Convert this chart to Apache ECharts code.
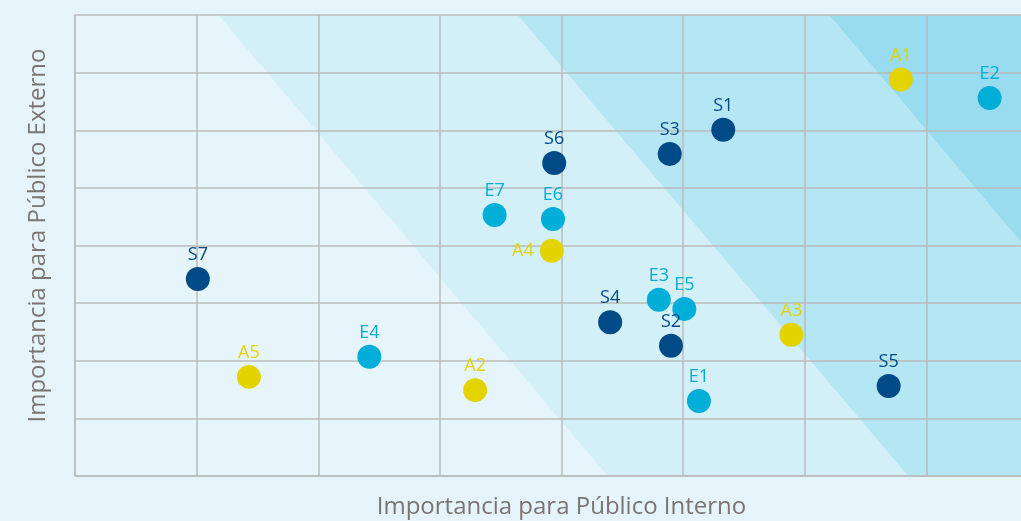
<!DOCTYPE html>
<html>
<head>
<meta charset="utf-8">
<script src="https://cdn.jsdelivr.net/npm/echarts@6/dist/echarts.min.js"></script>
<style>
  html, body { margin: 0; padding: 0; overflow: hidden; background: #e5f4fb; }
  #chart { width: 1048px; height: 521px; }
</style>
</head>
<body>
<div id="chart"></div>
<script>
// points: [x, y, name]
const groupS = [
  [5.33, 6.01, "S1"], [4.90, 2.26, "S2"], [4.89, 5.59, "S3"], [4.40, 2.67, "S4"],
  [6.69, 1.56, "S5"], [3.94, 5.43, "S6"], [1.01, 3.42, "S7"]
];
const groupE = [
  [5.13, 1.30, "E1"], [7.52, 6.56, "E2"], [4.80, 3.06, "E3"], [2.42, 2.07, "E4"],
  [5.01, 2.90, "E5"], [3.93, 4.46, "E6"], [3.45, 4.53, "E7"]
];
const groupA = [
  [6.79, 6.88, "A1"], [3.29, 1.49, "A2"], [5.89, 2.45, "A3"], [3.92, 3.91, "A4"],
  [1.43, 1.72, "A5"]
];
// diagonal band edges: x at top (y=8) and at bottom (y=0)
const edgeTop = [-10, 1.18, 3.64, 6.2, 20];
const edgeBottom = [-10, 4.38, 6.85, 9.4, 20];
const bandColors = ["#e6f5fb", "#d3eff8", "#b5e6f4", "#99dcef"];

const chart = echarts.init(document.getElementById("chart"));

const labelFont = { fontFamily: "Open Sans", fontSize: 18 };
const titleStyle = { color: "#7b7472", fontSize: 24, fontFamily: "Open Sans" };

function pointSeries(data, color) {
  return {
    type: "scatter",
    data: data.map(d => ({
      value: [d[0], d[1]],
      name: d[2],
      label: d[2] === "A4" ? { position: "left", distance: 6 } : undefined
    })),
    symbolSize: 24,
    itemStyle: { color: color, opacity: 1 },
    label: {
      show: true,
      position: "top",
      distance: 3,
      formatter: "{b}",
      color: color,
      ...labelFont
    },
    z: 5
  };
}

chart.setOption({
  backgroundColor: "#e5f4fb",
  animation: false,
  grid: { left: 75, right: 0, top: 15, bottom: 45, containLabel: false, outerBoundsMode: "none" },
  xAxis: {
    type: "value", min: 0, max: 8, interval: 1,
    name: "Importancia para Público Interno",
    nameLocation: "middle", nameGap: 19,
    nameTextStyle: titleStyle,
    axisLine: { show: true, lineStyle: { color: "#bbbbbb", width: 1.5 } },
    axisTick: { show: false }, axisLabel: { show: false },
    splitLine: { show: true, lineStyle: { color: "#bbbbbb", width: 1.5 } }
  },
  yAxis: {
    type: "value", min: 0, max: 8, interval: 1,
    name: "Importancia para Público Externo",
    nameLocation: "middle", nameGap: 25,
    nameTextStyle: { ...titleStyle, padding: [0, 0, 0, 20] },
    axisLine: { show: true, lineStyle: { color: "#bbbbbb", width: 1.5 } },
    axisTick: { show: false }, axisLabel: { show: false },
    splitLine: { show: true, lineStyle: { color: "#bbbbbb", width: 1.5 } }
  },
  series: [
    {
      type: "custom",
      clip: true,
      silent: true,
      z: 0,
      data: bandColors.map((c, i) => i),
      renderItem: function (params, api) {
        const i = api.value(0);
        const pts = [
          api.coord([edgeTop[i], 8]),
          api.coord([edgeTop[i + 1], 8]),
          api.coord([edgeBottom[i + 1], 0]),
          api.coord([edgeBottom[i], 0])
        ];
        return {
          type: "polygon",
          shape: { points: pts },
          style: { fill: bandColors[i] },
          z2: -1
        };
      }
    },
    pointSeries(groupS, "#004a87"),
    pointSeries(groupE, "#00aed8"),
    pointSeries(groupA, "#e3d400")
  ]
});
</script>
</body>
</html>
